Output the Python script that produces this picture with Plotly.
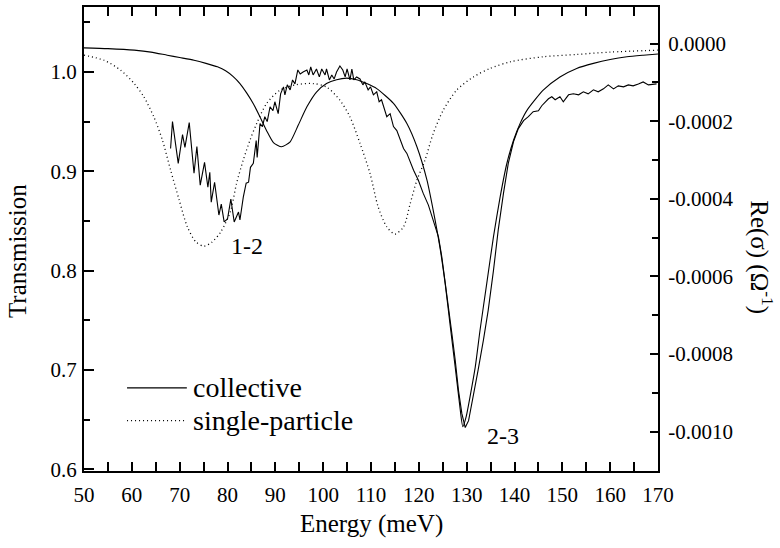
import plotly.graph_objects as go

# ---------------- data ----------------
energy_exp = [68.1, 68.5, 69.7, 70.6, 71.1, 72.0, 73.0, 73.6, 74.3, 75.2, 75.9, 76.3, 76.6, 77.3,
              78.2, 78.7, 79.3, 80.0, 80.7, 81.1, 81.4, 82.3, 82.6, 83.3, 83.9, 84.4, 84.8, 85.4,
              86.0, 86.2, 86.8, 87.3, 87.8, 88.3, 88.9, 89.5, 89.9, 90.6, 91.1, 91.7, 92.0, 92.5,
              93.1, 93.6, 94.1, 94.7, 95.2, 95.8, 96.6, 97.0, 97.4, 97.9, 98.6, 99.2, 99.7, 100.4,
              100.7, 101.3, 101.8, 102.3, 102.8, 103.5, 104.1, 104.6, 105.0, 105.6, 106.0, 106.4,
              107.0, 107.7, 108.3, 108.7, 109.4, 109.9, 110.5, 111.2, 111.7, 112.2, 113.3, 114.0,
              114.7, 115.4, 116.1, 116.8, 117.5, 118.2, 118.9, 119.9, 120.9, 122.0, 123.0, 124.1,
              124.8, 125.5, 126.2, 126.9, 127.6, 128.3, 129.0, 129.7, 130.4, 131.4, 132.4, 133.5,
              134.5, 135.6, 136.6, 137.7, 138.7, 139.8, 140.8, 141.9, 142.9, 143.9, 145.0, 145.7,
              146.4, 147.1, 147.8, 148.5, 149.5, 150.2, 151.3, 152.3, 153.4, 154.4, 155.4, 156.5,
              157.5, 158.6, 159.6, 160.7, 161.7, 162.8, 163.8, 164.8, 165.9, 166.9, 168.0, 169.0,
              169.7]
transmission_exp = [0.923, 0.950, 0.908, 0.937, 0.924, 0.949, 0.898, 0.925, 0.886, 0.909, 0.884,
                    0.899, 0.869, 0.889, 0.856, 0.867, 0.849, 0.852, 0.872, 0.858, 0.849, 0.859,
                    0.851, 0.874, 0.888, 0.889, 0.904, 0.908, 0.931, 0.914, 0.948, 0.945, 0.955,
                    0.950, 0.965, 0.961, 0.970, 0.958, 0.978, 0.985, 0.977, 0.987, 0.982, 0.992,
                    0.988, 1.002, 0.998, 1.000, 1.002, 0.997, 1.005, 0.997, 1.003, 0.995, 1.003,
                    0.997, 1.003, 0.992, 0.997, 0.993, 1.000, 1.006, 1.002, 0.995, 1.003, 0.992,
                    1.003, 0.992, 0.995, 0.993, 0.987, 0.990, 0.982, 0.985, 0.977, 0.980, 0.970,
                    0.972, 0.955, 0.958, 0.945, 0.941, 0.931, 0.923, 0.918, 0.909, 0.901, 0.891,
                    0.878, 0.866, 0.851, 0.834, 0.814, 0.790, 0.763, 0.737, 0.710, 0.679, 0.656,
                    0.642, 0.649, 0.673, 0.700, 0.730, 0.760, 0.800, 0.841, 0.878, 0.908, 0.930,
                    0.943, 0.951, 0.955, 0.960, 0.961, 0.966, 0.970, 0.973, 0.975, 0.972, 0.975,
                    0.970, 0.977, 0.978, 0.977, 0.980, 0.978, 0.982, 0.980, 0.983, 0.987, 0.983,
                    0.986, 0.985, 0.987, 0.986, 0.988, 0.990, 0.987, 0.988, 0.988]

energy_collective = [50.0, 55.0, 60.5, 64.0, 67.4, 70.0, 73.0, 75.5, 77.9, 79.6, 81.2, 82.6, 84.0,
                     85.4, 86.8, 88.2, 89.6, 91.3, 93.1, 94.8, 96.6, 98.6, 100.7, 102.8, 104.9,
                     107.0, 109.1, 111.2, 114.7, 117.5, 119.6, 121.7, 123.0, 124.4, 125.5, 126.5,
                     127.6, 128.5, 129.2, 129.9, 130.7, 131.8, 132.8, 134.2, 135.6, 137.0, 138.4,
                     139.8, 141.2, 142.6, 146.0, 149.5, 153.0, 156.5, 160.0, 163.5, 166.9, 170.0]
sigma_collective = [-0.11e-4, -0.13e-4, -0.17e-4, -0.22e-4, -0.30e-4, -0.36e-4, -0.43e-4, -0.51e-4,
                    -0.60e-4, -0.70e-4, -0.85e-4, -1.03e-4, -1.27e-4, -1.55e-4, -1.89e-4, -2.25e-4,
                    -2.55e-4, -2.66e-4, -2.53e-4, -2.10e-4, -1.63e-4, -1.25e-4, -1.03e-4, -0.93e-4,
                    -0.89e-4, -0.93e-4, -1.03e-4, -1.16e-4, -1.54e-4, -2.06e-4, -2.66e-4, -3.52e-4,
                    -4.29e-4, -5.24e-4, -6.18e-4, -7.21e-4, -8.33e-4, -9.27e-4, -9.87e-4, -9.61e-4,
                    -9.10e-4, -8.33e-4, -7.38e-4, -6.18e-4, -4.98e-4, -3.95e-4, -3.09e-4, -2.49e-4,
                    -2.05e-4, -1.72e-4, -1.20e-4, -0.86e-4, -0.64e-4, -0.51e-4, -0.41e-4, -0.34e-4,
                    -0.30e-4, -0.27e-4]

energy_single = [50.0, 54.2, 57.7, 60.5, 62.5, 64.6, 66.4, 68.1, 69.9, 71.6, 73.4, 75.1, 76.8, 78.6,
                 80.6, 81.9, 83.3, 84.7, 86.1, 88.2, 91.0, 94.4, 97.9, 100.7, 103.5, 105.6, 107.7,
                 109.8, 111.5, 113.3, 115.0, 116.8, 118.2, 119.6, 121.3, 123.0, 125.1, 127.9,
                 131.4, 134.9, 139.1, 146.0, 153.0, 160.0, 170.0]
sigma_single = [-0.30e-4, -0.43e-4, -0.69e-4, -1.03e-4, -1.37e-4, -1.89e-4, -2.49e-4, -3.26e-4,
                -4.03e-4, -4.72e-4, -5.11e-4, -5.22e-4, -5.11e-4, -4.85e-4, -4.33e-4, -3.60e-4,
                -3.00e-4, -2.49e-4, -2.06e-4, -1.54e-4, -1.20e-4, -1.06e-4, -1.03e-4, -1.12e-4,
                -1.46e-4, -1.89e-4, -2.57e-4, -3.35e-4, -4.21e-4, -4.72e-4, -4.91e-4, -4.72e-4,
                -4.12e-4, -3.52e-4, -3.00e-4, -2.32e-4, -1.72e-4, -1.20e-4, -0.86e-4, -0.64e-4,
                -0.47e-4, -0.34e-4, -0.28e-4, -0.22e-4, -0.17e-4]

x_ticks = [50, 60, 70, 80, 90, 100, 110, 120, 130, 140, 150, 160, 170]
x_minor = [55, 65, 75, 85, 95, 105, 115, 125, 135, 145, 155, 165]
y_ticks = [0.6, 0.7, 0.8, 0.9, 1.0]
y_ticktext = ["0.6", "0.7", "0.8", "0.9", "1.0"]
y_minor = [0.65, 0.75, 0.85, 0.95, 1.05]
y2_ticks = [0.0, -0.0002, -0.0004, -0.0006, -0.0008, -0.0010]
y2_ticktext = ["0.0000", "-0.0002", "-0.0004", "-0.0006", "-0.0008", "-0.0010"]
y2_minor = [-0.0001, -0.0003, -0.0005, -0.0007, -0.0009, -0.0011]

FONT = "Liberation Serif"

fig = go.Figure()
fig.add_trace(go.Scatter(x=energy_exp, y=transmission_exp, mode="lines", name="experiment",
                         line=dict(color="black", width=1.1), yaxis="y", showlegend=False))
fig.add_trace(go.Scatter(x=energy_collective, y=sigma_collective, mode="lines", name="collective",
                         line=dict(color="black", width=1.1, shape="spline", smoothing=0.6),
                         yaxis="y2", showlegend=False))
fig.add_trace(go.Scatter(x=energy_single, y=sigma_single, mode="lines", name="single-particle",
                         line=dict(color="black", width=1.3, dash="1px,3px", shape="spline",
                                   smoothing=0.8),
                         yaxis="y2", showlegend=False))

# legend drawn as sample lines + labels
legend_items = [("collective", "solid", 0.682), ("single-particle", "1px,3px", 0.649)]
for label, dash, yv in legend_items:
    fig.add_shape(type="line", xref="x", yref="y", x0=59.0, x1=71.5, y0=yv, y1=yv,
                  line=dict(color="black", width=1.2, dash=dash))
    fig.add_annotation(x=72.4, y=yv, xref="x", yref="y", text=label, showarrow=False,
                       xanchor="left", yanchor="middle", font=dict(family=FONT, size=28, color="black"))

fig.add_annotation(x=84.1, y=0.825, xref="x", yref="y", text="1-2", showarrow=False,
                   font=dict(family=FONT, size=24, color="black"))
fig.add_annotation(x=137.6, y=0.634, xref="x", yref="y", text="2-3", showarrow=False,
                   font=dict(family=FONT, size=24, color="black"))

# axis titles
fig.add_annotation(x=0.5, y=-0.115, xref="paper", yref="paper", text="Energy (meV)",
                   showarrow=False, xanchor="center", yanchor="middle",
                   font=dict(family=FONT, size=25, color="black"))
fig.add_annotation(x=-0.1167, y=0.474, xref="paper", yref="paper", text="Transmission",
                   showarrow=False, textangle=-90, xanchor="center", yanchor="middle",
                   font=dict(family=FONT, size=25, color="black"))
fig.add_annotation(x=1.181, y=0.461, xref="paper", yref="paper",
                   text="Re(σ) (Ω<sup>-1</sup>)", showarrow=False, textangle=90,
                   xanchor="center", yanchor="middle",
                   font=dict(family=FONT, size=25, color="black"))

fig.update_layout(
    width=780, height=548,
    margin=dict(l=84, r=122, t=7, b=77, autoexpand=False),
    paper_bgcolor="white", plot_bgcolor="white",
    font=dict(family=FONT, size=21, color="black"),
    xaxis=dict(range=[50, 170], showgrid=False, zeroline=False, showline=True, linecolor="black",
               linewidth=2, mirror="allticks", ticks="inside", ticklen=9, tickwidth=2,
               tickcolor="black", tickmode="array", tickvals=x_ticks,
               ticktext=[str(v) for v in x_ticks], automargin=False, ticklabelstandoff=4,
               minor=dict(ticks="inside", ticklen=5, tickwidth=2, tickcolor="black",
                          tickmode="array", tickvals=x_minor, showgrid=False),
               tickfont=dict(family=FONT, size=21, color="black")),
    yaxis=dict(range=[0.5983, 1.0654], showgrid=False, zeroline=False, showline=True,
               linecolor="black", linewidth=2, ticks="inside", ticklen=10, tickwidth=2,
               tickcolor="black", tickmode="array", tickvals=y_ticks, ticktext=y_ticktext,
               automargin=False, ticklabelstandoff=1,
               minor=dict(ticks="inside", ticklen=6, tickwidth=2, tickcolor="black",
                          tickmode="array", tickvals=y_minor, showgrid=False),
               tickfont=dict(family=FONT, size=21, color="black")),
    yaxis2=dict(range=[-0.0011012, 0.0000942], overlaying="y", side="right", showgrid=False,
                zeroline=False, showline=True, linecolor="black", linewidth=2, ticks="inside",
                ticklen=8, tickwidth=2, tickcolor="black", tickmode="array", tickvals=y2_ticks,
                ticktext=y2_ticktext, automargin=False, ticklabelstandoff=4,
                minor=dict(ticks="inside", ticklen=6, tickwidth=2, tickcolor="black",
                           tickmode="array", tickvals=y2_minor, showgrid=False),
                tickfont=dict(family=FONT, size=21, color="black")),
    showlegend=False,
)

fig.write_html("out.html", config={"displayModeBar": False},
               post_script="document.body.style.margin='0';")
